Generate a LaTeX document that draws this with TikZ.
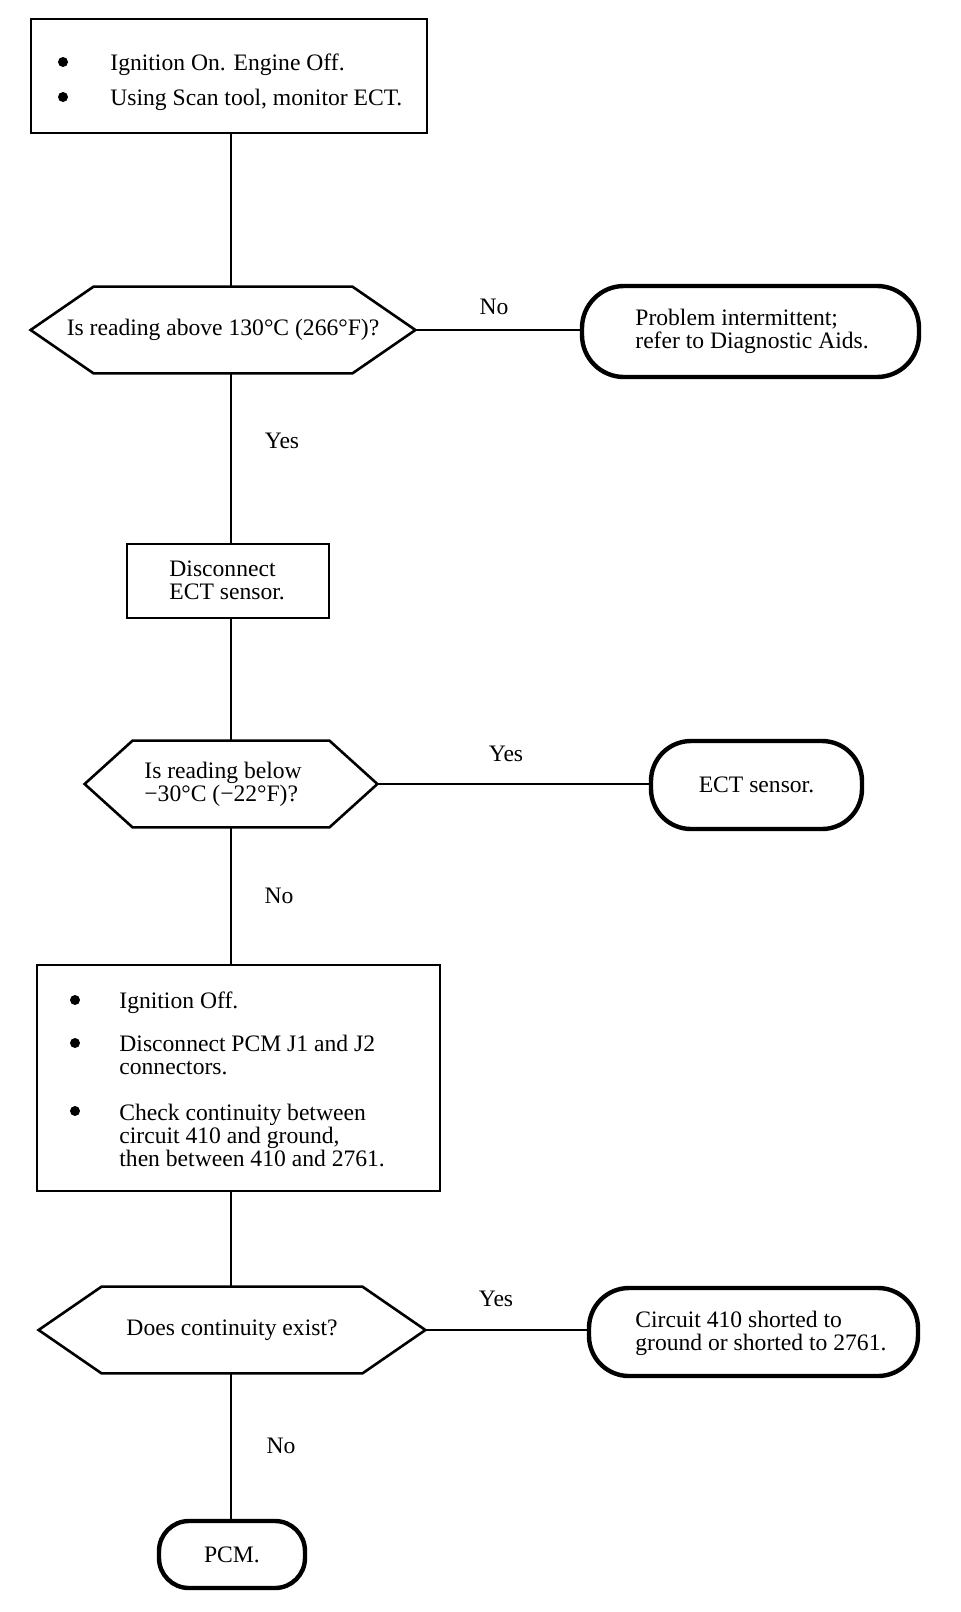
\documentclass[tikz,border=0pt]{standalone}
\usepackage{fontspec}
\setmainfont{Liberation Serif}
\usetikzlibrary{calc}
\tikzset{
  boxnode/.style={draw, line width=1pt, inner sep=0pt},
  termnode/.style={draw, line width=2.2pt, inner sep=0pt, rounded corners=#1},
  hexframe/.style={draw=none, inner sep=0pt},
  hexline/.style={line width=1.3pt, line join=miter},
  conn/.style={line width=0.75pt},
  txt/.style={inner sep=0pt, align=left},
  lbl/.style={inner sep=0pt},
  dotnode/.style={circle, fill, inner sep=0pt, minimum size=5pt},
}
\begin{document}
\begin{tikzpicture}[x=0.5pt,y=-0.5pt,
  every node/.append style={font=\fontsize{11.8pt}{11.5pt}\selectfont}]
\useasboundingbox (0,0) rectangle (960,1612);
\coordinate (sp) at (231,0);

% Box 1
\node[boxnode, minimum width=198pt, minimum height=57pt] (b1) at (229,76) {};
\node[dotnode] (b1d1) at (63,62) {};
\node[txt, anchor=base west] (b1t1) at (110,70) {Ignition On. Engine Off.};
\node[dotnode] (b1d2) at (63,97) {};
\node[txt, anchor=base west] (b1t2) at (110,105) {Using Scan tool, monitor ECT.};

% Hexagon 1
\node[hexframe, minimum width=192pt, minimum height=43pt] (h1) at (223,330) {Is reading above 130°C (266°F)?};
\draw[hexline] (h1.west) -- ([xshift=31.5pt]h1.north west) -- ([xshift=-31.5pt]h1.north east)
  -- (h1.east) -- ([xshift=-31.5pt]h1.south east) -- ([xshift=31.5pt]h1.south west) -- cycle;

% Terminal 1
\node[termnode=21pt, minimum width=168.5pt, minimum height=45.5pt] (t1) at (750.5,331.5) {};
\node[txt, anchor=west] (t1t) at (635,331) {Problem intermittent;\\refer to Diagnostic Aids.};

% Box 2
\node[boxnode, minimum width=101pt, minimum height=37pt] (b2) at (228,581) {};
\node[txt, anchor=west] (b2t) at (169,580) {Disconnect\\ECT sensor.};

% Hexagon 2
\node[hexframe, minimum width=146pt, minimum height=43pt] (h2) at (231,784) {};
\node[txt, anchor=west] (h2t) at (144,784) {Is reading below\\−30°C (−22°F)?};
\draw[hexline] (h2.west) -- ([xshift=24pt]h2.north west) -- ([xshift=-24pt]h2.north east)
  -- (h2.east) -- ([xshift=-24pt]h2.south east) -- ([xshift=24pt]h2.south west) -- cycle;

% Terminal 2
\node[termnode=20pt, minimum width=105.5pt, minimum height=44pt] (t2) at (756.5,785) {ECT sensor.};

% Box 3
\node[boxnode, minimum width=201.5pt, minimum height=113pt] (b3) at (238.5,1078) {};
\node[dotnode] (b3d1) at (75,1000) {};
\node[txt, anchor=base west] (b3t1) at (119,1008) {Ignition Off.};
\node[dotnode] (b3d2) at (75,1043) {};
\node[txt, anchor=west] (b3t2) at (119,1055) {Disconnect PCM J1 and J2\\connectors.};
\node[dotnode] (b3d3) at (75,1111) {};
\node[txt, anchor=west] (b3t3) at (119,1135) {Check continuity between\\circuit 410 and ground,\\then between 410 and 2761.};

% Hexagon 3
\node[hexframe, minimum width=193pt, minimum height=43pt] (h3) at (232,1330) {Does continuity exist?};
\draw[hexline] (h3.west) -- ([xshift=31.5pt]h3.north west) -- ([xshift=-31.5pt]h3.north east)
  -- (h3.east) -- ([xshift=-31.5pt]h3.south east) -- ([xshift=31.5pt]h3.south west) -- cycle;

% Terminal 3
\node[termnode=20pt, minimum width=164.5pt, minimum height=44pt] (t3) at (753.5,1332) {};
\node[txt, anchor=west] (t3t) at (635,1333) {Circuit 410 shorted to\\ground or shorted to 2761.};

% PCM
\node[termnode=15pt, minimum width=73pt, minimum height=33.5pt] (pcm) at (232,1554.5) {PCM.};

% Connectors
\draw[conn] (b1.south -| sp) -- (sp |- h1.north);
\draw[conn] (sp |- h1.south) -- (sp |- b2.north);
\draw[conn] (sp |- b2.south) -- (sp |- h2.north);
\draw[conn] (sp |- h2.south) -- (sp |- b3.north);
\draw[conn] (sp |- b3.south) -- (sp |- h3.north);
\draw[conn] (sp |- h3.south) -- (sp |- pcm.north);
\draw[conn] (h1.east) -- (h1.east -| t1.west);
\draw[conn] (h2.east) -- (h2.east -| t2.west);
\draw[conn] (h3.east) -- (h3.east -| t3.west);

% Labels
\node[lbl] (l1) at (494,307) {No};
\node[lbl] (l2) at (282,441) {Yes};
\node[lbl] (l3) at (506,754) {Yes};
\node[lbl] (l4) at (279,896) {No};
\node[lbl] (l5) at (496,1299) {Yes};
\node[lbl] (l6) at (281,1446) {No};
\end{tikzpicture}
\end{document}
